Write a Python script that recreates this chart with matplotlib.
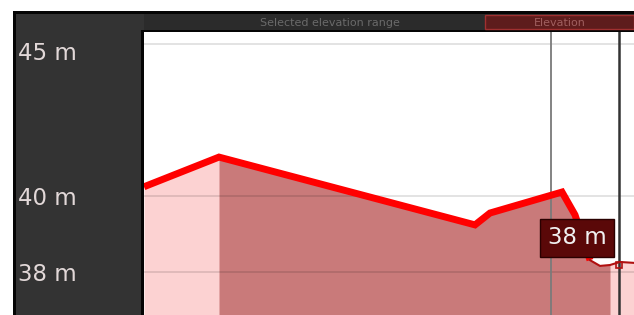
import numpy as np
import matplotlib
matplotlib.use("Agg")
import matplotlib.pyplot as plt
import matplotlib.transforms as mtransforms
from matplotlib.patches import Rectangle

# profil (distance en m le long du trace, altitude en m)
dist_m = [0, 2, 75, 331, 346, 418, 431, 446, 456, 466, 476, 490]
elev_m = [40.3, 40.33, 41.28, 39.05, 39.44, 40.13, 39.38, 37.89, 37.70, 37.73, 37.83, 37.80]

sel_start, sel_end = 75, 466      # plage selectionnee (partie foncee)
hover_dist = 446                  # point survole
cursor_dist = [407, 475]          # curseurs verticaux
y_ticks = [45, 40, 37.5]
strip_text = "Selected elevation range"
strip_box_text = "Elevation"

dist = np.array(dist_m, dtype=float)
elev = np.array(elev_m)

W, H = 634, 315
fig = plt.figure(figsize=(W / 100, H / 100), dpi=100, facecolor="white")

# fond / cadre en pixels
bg = fig.add_axes([0, 0, 1, 1])
bg.set_xlim(0, W)
bg.set_ylim(H, 0)
bg.axis("off")
bg.add_patch(Rectangle((13, 11), W - 13, H - 11, fc="#333333", ec="none"))
bg.add_patch(Rectangle((13, 11), W - 13, 3, fc="#050505", ec="none"))
bg.add_patch(Rectangle((13, 11), 3, H - 11, fc="#050505", ec="none"))
bg.add_patch(Rectangle((144, 14), W - 144, 17, fc="#2b2b2b", ec="none"))
bg.add_patch(Rectangle((141, 30), W - 141, 2.5, fc="#050505", ec="none"))
bg.add_patch(Rectangle((141, 30), 2.5, H - 30, fc="#050505", ec="none"))
bg.add_patch(Rectangle((485, 15), W - 485, 14, fc="#5e1c1c", ec="#a03030", lw=1))
bg.text(330, 22.5, strip_text, color="#7a7a7a", fontsize=8, ha="center", va="center", alpha=0.8)
bg.text(560, 22.5, strip_box_text, color="#b07070", fontsize=8, ha="center", va="center", alpha=0.8)

ax = fig.add_axes([144 / W, 0, (W - 144) / W, (H - 32) / H])
ax.set_facecolor("white")
ax.set_xlim(0, 490)
ax.set_ylim(45 - 271 / 30.4, 45 + 12 / 30.4)
for s in ax.spines.values():
    s.set_visible(False)

ybot = ax.get_ylim()[0]
ax.fill_between(dist, elev, ybot, color="#fcd2d2", lw=0, zorder=1)
mask = (dist >= sel_start) & (dist <= sel_end)
ax.fill_between(dist, elev, ybot, where=mask, color="#c97a7a", lw=0, zorder=2)

for t in y_ticks:
    ax.axhline(t, color="black", alpha=0.13, lw=1.2, zorder=3)

ax.axvline(cursor_dist[0], color="#7a7a7a", lw=1.3, zorder=4)
ax.axvline(cursor_dist[1], color="#333333", lw=1.8, zorder=4)

on = dist <= hover_dist
ax.plot(dist[on], elev[on], color="#ff0000", lw=5, solid_joinstyle="miter",
        solid_capstyle="butt", zorder=5)
off = dist >= hover_dist
ax.plot(dist[off], elev[off], color="#b01010", lw=1.5, zorder=5)
ax.plot([cursor_dist[1]], [elev[off][2]], marker="s", ms=5, mfc="none",
        mec="#b01010", mew=1.2, zorder=6)

hover_elev = np.interp(hover_dist, dist, elev)
ax.text(433, 38.62, f"{hover_elev:.0f} m", color="#f0f0f0", fontsize=16.5,
        ha="center", va="center", zorder=7,
        bbox=dict(boxstyle="square,pad=0.33", fc="#5a0808", ec="#2a0000", lw=1))

ax.set_xticks([])
ax.set_yticks(y_ticks)
ax.set_yticklabels([f"{t:.0f} m" for t in y_ticks], color="#e2d8d8", fontsize=16.5)
ax.tick_params(axis="y", length=0, pad=91)
for lab in ax.get_yticklabels():
    lab.set_horizontalalignment("left")
# le premier libelle est un peu plus bas que sa ligne
top_lab = ax.get_yticklabels()[0]
top_lab.set_transform(top_lab.get_transform() +
                      mtransforms.ScaledTranslation(0, -5 / 72, fig.dpi_scale_trans))

fig.savefig("out.png", dpi=100, facecolor="white")
